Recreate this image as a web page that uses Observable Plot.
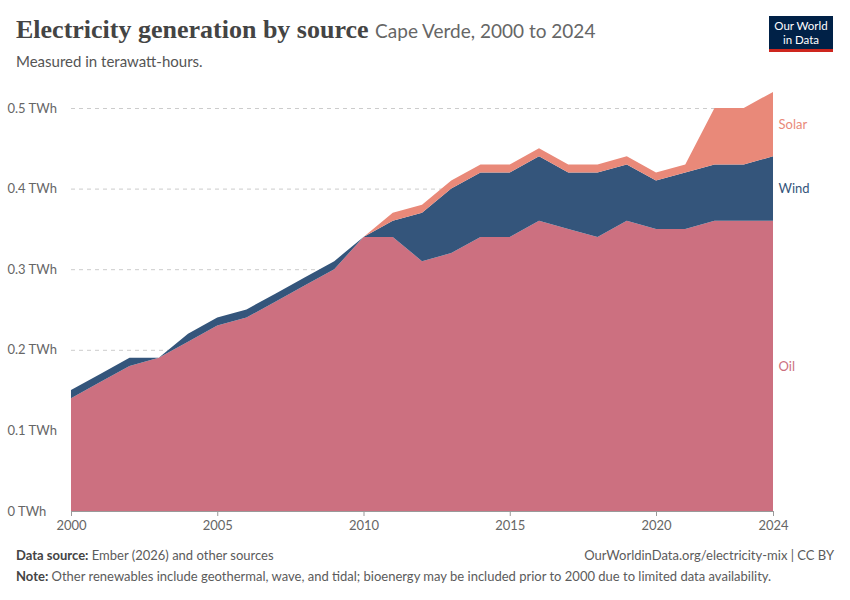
<!DOCTYPE html>
<html><head><meta charset="utf-8">
<script src="https://cdn.jsdelivr.net/npm/d3@7"></script>
<script src="https://cdn.jsdelivr.net/npm/@observablehq/plot@0.6"></script>
<style>
body{margin:0;width:850px;height:600px;font-family:Lato,sans-serif;background:#fff;position:relative;overflow:hidden}
#head{height:85px;position:relative}
h1{position:absolute;left:16px;top:15px;margin:0;font-family:"Liberation Serif",serif;font-size:26px;font-weight:bold;color:#444}
h1 span{font-family:Lato,sans-serif;font-weight:normal;font-size:19px;color:#666}
#sub{position:absolute;left:16px;top:52px;font-size:15px;color:#555}
#logo{position:absolute;left:769px;top:16px;width:64px;height:36px;background:#002147;color:#fff;font-size:11.5px;text-align:center;line-height:14px;padding-top:3px;box-sizing:border-box;border-bottom:3px solid #ce261e}
#chart{position:absolute;left:0;top:85px}
#foot{position:absolute;left:16px;right:16px;top:545px;font-size:13px;color:#5b5b5b;line-height:21px}
#foot b{color:#444}
</style></head><body>
<div id="head"><h1>Electricity generation by source <span>Cape Verde, 2000 to 2024</span></h1>
<div id="sub">Measured in terawatt-hours.</div>
<div id="logo">Our World<br>in Data</div></div>
<div id="chart"></div>
<div id="foot"><div><b>Data source:</b> Ember (2026) and other sources<span style="float:right">OurWorldinData.org/electricity-mix | CC BY</span></div>
<div><b>Note:</b> Other renewables include geothermal, wave, and tidal; bioenergy may be included prior to 2000 due to limited data availability.</div></div>
<script>
const years = d3.range(2000, 2025);
const oil =     [.14,.16,.18,.19,.21,.23,.24,.26,.28,.30,.34,.34,.31,.32,.34,.34,.36,.35,.34,.36,.35,.35,.36,.36,.36];
const oilWind = [.15,.17,.19,.19,.22,.24,.25,.27,.29,.31,.34,.36,.37,.40,.42,.42,.44,.42,.42,.43,.41,.42,.43,.43,.44];
const total =   [.15,.17,.19,.19,.22,.24,.25,.27,.29,.31,.34,.37,.38,.41,.43,.43,.45,.43,.43,.44,.42,.43,.50,.50,.52];
const sources = ["Oil","Wind","Solar"];
const colors = ["#cc7080","#34557b","#e98979"];
const data = [];
years.forEach((y,i)=>{
  data.push({year:y,source:"Oil",value:oil[i]});
  data.push({year:y,source:"Wind",value:+(oilWind[i]-oil[i]).toFixed(3)});
  data.push({year:y,source:"Solar",value:+(total[i]-oilWind[i]).toFixed(3)});
});
const labels = [{source:"Solar",y:0.48},{source:"Wind",y:0.40},{source:"Oil",y:0.18}];
const yTicks = [0,0.1,0.2,0.3,0.4,0.5];
const xTicks = [2000,2005,2010,2015,2020,2024];
const fmt = d => d===0 ? "0 TWh" : d + " TWh";
const plot = Plot.plot({
  width:850,height:460,marginTop:23,marginBottom:34,marginLeft:71,marginRight:77,
  style:{fontFamily:"Lato,sans-serif",fontSize:"13px",color:"#666",overflow:"visible"},
  x:{domain:[2000,2024],label:null},
  y:{domain:[0,0.5],label:null},
  color:{domain:sources,range:colors},
  marks:[
    Plot.gridY(yTicks,{stroke:"#ccc",strokeDasharray:"4,4",strokeOpacity:1}),
    Plot.areaY(data,{x:"year",y:"value",fill:"source",order:sources}),
    Plot.axisY(yTicks,{tickSize:0,textAnchor:"start",dx:-55,tickFormat:fmt,fill:"#666"}),
    Plot.axisX(xTicks,{tickFormat:d=>String(d),tickSize:5,stroke:"#999",fill:"#666"}),
    Plot.ruleY([0],{stroke:"#999"}),
    Plot.text(labels,{x:2024,y:"y",text:"source",fill:d=>colors[sources.indexOf(d.source)],textAnchor:"start",dx:5,fontSize:13})
  ]
});
document.getElementById("chart").append(plot);
</script></body></html>
